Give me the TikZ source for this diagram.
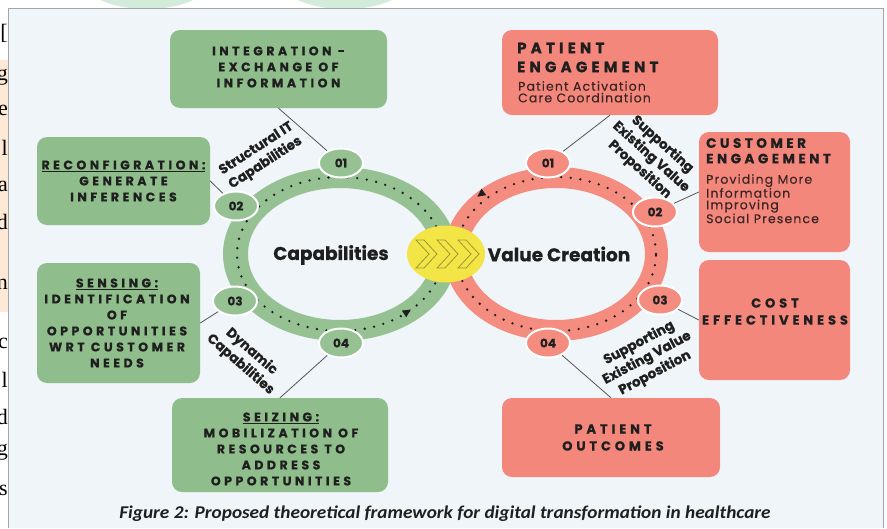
\documentclass[tikz,border=0pt]{standalone}
\usepackage{fontspec}
\setmainfont{Poppins}[BoldFeatures={FakeBold=0.6}]
\newfontfamily\gfont{Poppins}[LetterSpace=28, BoldFeatures={FakeBold=0.8}]
\newfontfamily\rfont{Poppins}[LetterSpace=28, BoldFeatures={FakeBold=0.8}]
\newfontfamily\rsfont{Poppins}[LetterSpace=26, BoldFeatures={FakeBold=0.8}]
\newfontfamily\cfont{Poppins}[LetterSpace=30, BoldFeatures={FakeBold=0.8}]
\newfontfamily\subfont{Poppins}[LetterSpace=9, FakeBold=0.3]
\newfontfamily\capfont{Carlito}
\newfontfamily\pagefont{Liberation Serif}
\usetikzlibrary{shapes.geometric}
\definecolor{gbox}{HTML}{8FBD8B}
\definecolor{gring}{HTML}{95C193}
\definecolor{rbox}{HTML}{F3877C}
\definecolor{rring}{HTML}{F48C80}
\definecolor{ylw}{HTML}{F3E545}
\definecolor{olivec}{HTML}{9C9636}
\definecolor{panelc}{HTML}{EFF5F8}
\definecolor{ink}{HTML}{1F1F1F}
\definecolor{subink}{HTML}{3B2523}
\definecolor{paleg}{HTML}{D3EBDB}
\definecolor{orng}{HTML}{FDE9D6}
\definecolor{linec}{HTML}{555555}
\begin{document}
\begin{tikzpicture}[x=1pt,y=-1pt,
  gboxs/.style={fill=gbox, rounded corners=10pt, inner sep=0pt},
  rboxs/.style={fill=rbox, rounded corners=10pt, inner sep=0pt},
  gtxt/.style={font=\gfont\bfseries\fontsize{12.5}{16}\selectfont, align=center, text=ink, inner sep=0pt},
  rtitle/.style={font=\rfont\bfseries\fontsize{15}{19}\selectfont, align=left, text=ink, inner sep=0pt},
  rtitlesm/.style={font=\rsfont\bfseries\fontsize{13.5}{15.5}\selectfont, align=left, text=ink, inner sep=0pt},
  rsub/.style={font=\subfont\fontsize{12.5}{11.6}\selectfont, align=left, text=subink, inner sep=0pt},
  ctxt/.style={font=\cfont\bfseries\fontsize{13}{17}\selectfont, align=center, text=ink, inner sep=0pt},
  ncirc/.style={ellipse, minimum width=44pt, minimum height=29pt, draw=white, line width=2pt, inner sep=0pt, font=\bfseries\fontsize{12}{12}\selectfont, text=ink},
  lbl/.style={font=\bfseries\fontsize{13.5}{17}\selectfont, align=center, text=ink, inner sep=0pt},
  conn/.style={draw=linec, line width=0.8pt},
  dots/.style={line width=2.6pt, line cap=round, dash pattern=on 0pt off 9.6pt, ink},
  pageletter/.style={font=\pagefont\fontsize{22}{22}\selectfont, anchor=east, inner sep=0pt, text=black}
]
\useasboundingbox (0,0) rectangle (887,528);
\fill[white] (0,0) rectangle (887,528);
% top faint shapes
\fill[paleg] (147,-18) ellipse [x radius=62pt, y radius=27pt];
\fill[paleg] (345,-18) ellipse [x radius=63pt, y radius=27pt];
% left page strip
\fill[orng] (0,60) rectangle (8,312);
\begin{scope}
\clip (0,0) rectangle (8,528);
\node[pageletter] (p1) at (8,33) {[};
\node[pageletter] (p2) at (8,77) {g};
\node[pageletter] (p3) at (8,110) {e};
\node[pageletter] (p4) at (8,148) {l};
\node[pageletter] (p5) at (8,186) {a};
\node[pageletter] (p6) at (8,222) {d};
\node[pageletter] (p7) at (8,284) {n};
\node[pageletter] (p8) at (8,343) {c};
\node[pageletter] (p9) at (8,380) {l};
\node[pageletter] (p10) at (8,417) {d};
\node[pageletter] (p11) at (8,452) {g};
\node[pageletter] (p12) at (8,490) {s};
\end{scope}
% panel
\fill[panelc] (8,8) rectangle (883,528);
\draw[gray!70, line width=0.8pt] (8,528) -- (8,8) -- (883,8) -- (883,528);

% rings
\path[fill=gring, even odd rule] (340,254) ellipse [x radius=117pt, y radius=87pt] (340,254) ellipse [x radius=92pt, y radius=66pt];
\path[fill=rring, even odd rule] (556,254) ellipse [x radius=112pt, y radius=87pt] (556,254) ellipse [x radius=89pt, y radius=66pt];
\draw[dots] (340,254) ellipse [x radius=103pt, y radius=77pt];
\draw[dots] (556,254) ellipse [x radius=100pt, y radius=77pt];
\fill[ink, shift={(407,312)}, rotate=33] (4.5,0) -- (-3.5,4) -- (-3.5,-4) -- cycle;
\fill[ink, shift={(481,194)}, rotate=216] (4.5,0) -- (-3.5,4) -- (-3.5,-4) -- cycle;

% ring numbers
\node[ncirc, fill=gring] (g1) at (341,163) {01};
\node[ncirc, fill=gring] (g2) at (236,206) {02};
\node[ncirc, fill=gring] (g3) at (235,301) {03};
\node[ncirc, fill=gring] (g4) at (341,343) {04};
\node[ncirc, fill=rring] (r1c) at (548,163) {01};
\node[ncirc, fill=rring] (r2c) at (655,212) {02};
\node[ncirc, fill=rring] (r3c) at (660,300) {03};
\node[ncirc, fill=rring] (r4c) at (548,343) {04};

% hub
\node[ellipse, fill=ylw, minimum width=78pt, minimum height=57pt, inner sep=0pt] (hub) at (446,254) {};
\foreach \x in {416,437,458}
  \draw[olivec, fill=ylw, line width=0.8pt, line join=miter] (\x,240) -- ++(8,0) -- ++(13,14) -- ++(-13,14) -- ++(-8,0) -- ++(13,-14) -- cycle;

\node[font=\bfseries\fontsize{18.5}{18.5}\selectfont, text=ink] (capab) at (331,255) {Capabilities};
\node[font=\bfseries\fontsize{18.5}{18.5}\selectfont, text=ink] (valcr) at (559,254) {Value Creation};

% green boxes
\node[gboxs, minimum width=217pt, minimum height=78pt] (b1) at (278.5,69) {};
\node[gtxt] (b1t) at (278.5,67) {INTEGRATION -\\EXCHANGE OF\\INFORMATION};
\node[gboxs, minimum width=173pt, minimum height=88pt] (b2) at (123.5,181) {};
\node[gtxt] (b2t) at (123.5,181) {\underline{RECONFIGRATION:}\\GENERATE\\INFERENCES};
\node[gboxs, minimum width=163pt, minimum height=120pt] (b3) at (118.5,323) {};
\node[gtxt] (b3t) at (117,323) {\underline{SENSING:}\\IDENTIFICATION\\OF\\OPPORTUNITIES\\WRT CUSTOMER\\NEEDS};
\node[gboxs, minimum width=216pt, minimum height=94pt] (b4) at (280,445) {};
\node[gtxt] (b4t) at (281,449) {\underline{SEIZING:}\\MOBILIZATION OF\\RESOURCES TO\\ADDRESS\\OPPORTUNITIES};

% red boxes
\node[rboxs, minimum width=216pt, minimum height=85pt] (r1) at (610,72.5) {};
\node[rtitle, anchor=north west] (r1t) at (517,42.5) {PATIENT\\ENGAGEMENT};
\node[rsub, anchor=north west] (r1s) at (518,81) {Patient Activation\\Care Coordination};
\node[rboxs, minimum width=151pt, minimum height=120pt] (r2) at (774.5,192) {};
\node[rtitlesm, anchor=north west] (r2t) at (706,138) {CUSTOMER\\ENGAGEMENT};
\node[rsub, anchor=north west] (r2s) at (706,174) {Providing More\\Information\\Improving\\Social Presence};
\node[rboxs, minimum width=151pt, minimum height=120pt] (r3) at (774.5,320) {};
\node[ctxt] (r3t) at (775,311.5) {COST\\EFFECTIVENESS};
\node[rboxs, minimum width=218pt, minimum height=79pt] (r4) at (611,437.5) {};
\node[ctxt] (r4t) at (613,437.5) {PATIENT\\OUTCOMES};

% connectors
\draw[conn] (g1) -- (b1.south);
\draw[conn] (g2) -- (b2.east);
\draw[conn] (g3) -- (b3.east);
\draw[conn] (g4) -- (b4.north);
\draw[conn] (r1c) -- (r1.south);
\draw[conn] (r2c) -- (r2.west);
\draw[conn] (r3c) -- (r3.west);
\draw[conn] (r4c) -- (r4.north);

% rotated labels
\node[lbl, rotate=33] (l1) at (261,156) {Structural IT\\Capabilities};
\node[lbl, rotate=-41] (l2) at (246,358) {Dynamic\\Capabilities};
\node[lbl, rotate=-42] (l3) at (651,157) {Supporting\\Existing Value\\Proposition};
\node[lbl, rotate=28] (l4) at (647,358) {Supporting\\Existing Value\\Proposition};

% caption
\node[font=\capfont\bfseries\itshape\fontsize{18}{20}\selectfont, text=ink, xscale=1.07] (cap) at (445,514) {Figure 2: Proposed theoretical framework for digital transformation in healthcare};
\end{tikzpicture}
\end{document}
